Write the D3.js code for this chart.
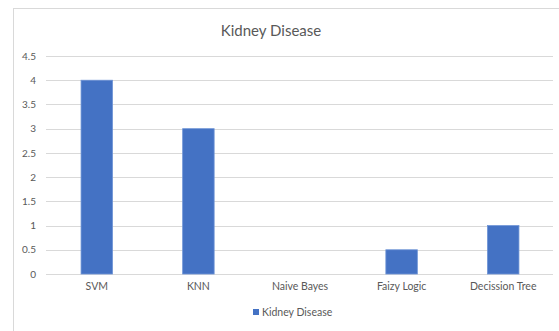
<!DOCTYPE html>
<html>
<head>
<meta charset="utf-8">
<script src="https://cdn.jsdelivr.net/npm/d3@7"></script>
<style>
  html, body { margin: 0; padding: 0; background: #fff; }
  svg { display: block; font-family: Lato, "Open Sans", sans-serif; }
</style>
</head>
<body>
<svg id="chart" width="559" height="331"></svg>
<script>
// Chart data
const categories = ["SVM", "KNN", "Naive Bayes", "Faizy Logic", "Decission Tree"];
const values = [4, 3, 0, 0.5, 1];
const seriesName = "Kidney Disease";
const yTicks = [0, 0.5, 1, 1.5, 2, 2.5, 3, 3.5, 4, 4.5];
const chartTitle = "Kidney Disease";

const svg = d3.select("#chart");
const W = 559, H = 331;
const margin = { left: 46, right: 5, top: 56, bottom: 57 };

// Outer chart frame (left and top edges visible)
svg.append("rect")
  .attr("x", 13.5).attr("y", 8.5)
  .attr("width", W).attr("height", H)
  .attr("fill", "#fff")
  .attr("stroke", "#d9d9d9");

const x = d3.scaleBand()
  .domain(categories)
  .range([margin.left, W - margin.right])
  .paddingInner(0.69)
  .paddingOuter(0.345);

const y = d3.scaleLinear()
  .domain([0, 4.5])
  .range([H - margin.bottom, margin.top]);

// Gridlines
svg.append("g")
  .selectAll("line")
  .data(yTicks)
  .join("line")
  .attr("x1", margin.left)
  .attr("x2", W - margin.right - 1)
  .attr("y1", d => Math.round(y(d)) + 0.5)
  .attr("y2", d => Math.round(y(d)) + 0.5)
  .attr("stroke", "#d9d9d9")
  .attr("stroke-width", 1);

// Y axis labels
const yAxis = d3.axisLeft(y).tickValues(yTicks).tickSize(0).tickPadding(0)
  .tickFormat(d => String(d));
const gy = svg.append("g")
  .attr("transform", `translate(${margin.left - 10},0)`)
  .call(yAxis);
gy.select(".domain").remove();
gy.selectAll("text")
  .attr("fill", "#595959")
  .style("font-size", "10px")
  .style("font-family", "Lato, 'Open Sans', sans-serif");

// Bars
svg.append("g")
  .selectAll("rect")
  .data(categories.map((c, i) => ({ c, v: values[i] })))
  .join("rect")
  .attr("x", d => x(d.c))
  .attr("y", d => y(d.v))
  .attr("width", x.bandwidth())
  .attr("height", d => y(0) - y(d.v))
  .attr("fill", "#4472c4")
  .attr("stroke", d => d.v > 0 ? "#6f94d6" : "none")
  .attr("stroke-width", 0.8);

// X axis labels
const xAxis = d3.axisBottom(x).tickSize(0).tickPadding(0);
const gx = svg.append("g")
  .attr("transform", `translate(0,${y(0) + 9})`)
  .call(xAxis);
gx.select(".domain").remove();
gx.selectAll("text")
  .attr("fill", "#595959")
  .style("font-size", "10.5px")
  .style("font-family", "Lato, 'Open Sans', sans-serif");

// Title
svg.append("text")
  .attr("x", 271)
  .attr("y", 36)
  .attr("text-anchor", "middle")
  .attr("fill", "#595959")
  .style("font-size", "15px")
  .text(chartTitle);

// Legend
const lg = svg.append("g").attr("transform", "translate(253,309)");
lg.append("rect").attr("x", 0).attr("y", 0).attr("width", 6).attr("height", 6).attr("fill", "#4472c4");
lg.append("text")
  .attr("x", 9).attr("y", 7)
  .attr("fill", "#595959")
  .style("font-size", "10.5px")
  .text(seriesName);
</script>
</body>
</html>
